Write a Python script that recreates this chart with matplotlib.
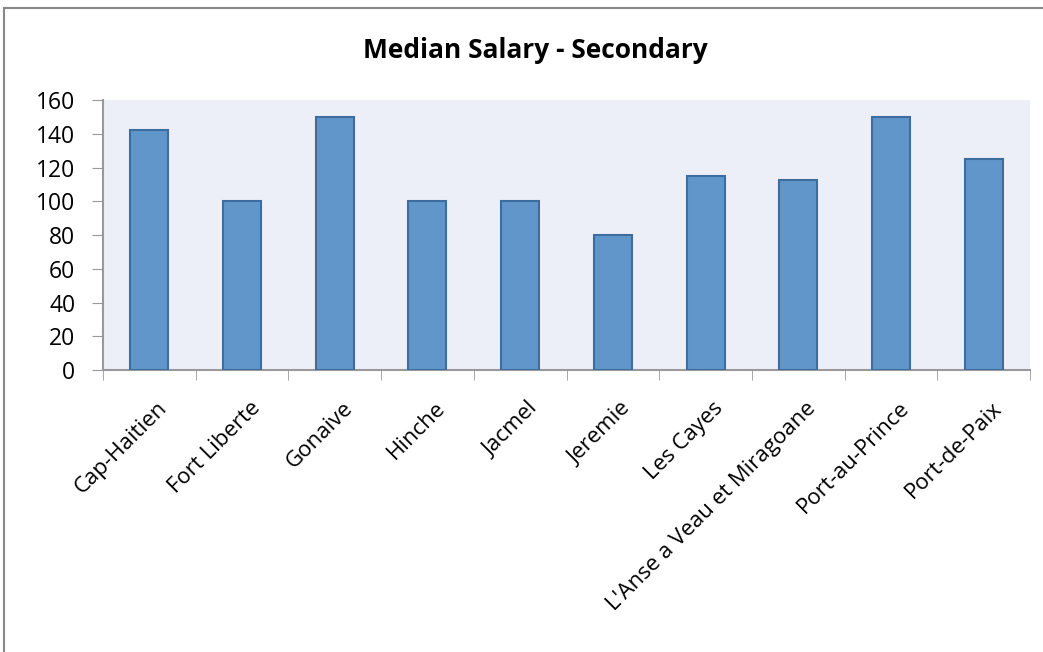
import matplotlib.pyplot as plt
from matplotlib.patches import Rectangle
import numpy as np

cities = ["Cap-Haitien", "Fort Liberte", "Gonaive", "Hinche", "Jacmel", "Jeremie",
          "Les Cayes", "L'Anse a Veau et Miragoane", "Port-au-Prince", "Port-de-Paix"]
salary = [142.5, 100, 150, 100, 100, 80, 115, 112.5, 150, 125]

plt.rcParams['font.family'] = ['Open Sans', 'DejaVu Sans']

fig = plt.figure(figsize=(10.43, 6.52), dpi=100)
ax = fig.add_axes([0.0988, 0.4325, 0.8887, 0.4141])
ax.set_facecolor('#ECEFF7')

x = np.arange(len(cities))
ax.bar(x, salary, width=0.41, color='#6096C9', edgecolor='#3D6C9E', linewidth=1.5, zorder=3)

ax.set_xlim(-0.5, len(cities) - 0.5)
ax.set_ylim(0, 160)
ax.set_yticks(range(0, 161, 20))
ax.tick_params(axis='y', labelsize=16.5, length=8, color='#999999', direction='out', pad=12)
ax.set_xticks(x + 0.08)
ax.set_xticklabels(cities, rotation=45, ha='right', rotation_mode='anchor', fontsize=16)
ax.set_xticks(np.arange(-0.5, len(cities)), minor=True)
ax.tick_params(axis='x', which='major', length=0, pad=20)
ax.tick_params(axis='x', which='minor', length=7, color='#999999')

for s in ['top', 'right']:
    ax.spines[s].set_visible(False)
for s in ['left', 'bottom']:
    ax.spines[s].set_color('#999999')
    ax.spines[s].set_linewidth(1.5)

fig.text(0.513, 0.922, "Median Salary - Secondary", ha='center', va='center',
         fontsize=19, fontweight='bold')

fig.patches.append(Rectangle((4 / 1043, -0.05), 1.1, 1.05 - 8 / 652,
                             transform=fig.transFigure, fill=False,
                             edgecolor='#888888', linewidth=1.5))

fig.savefig('out.png', dpi=100)
